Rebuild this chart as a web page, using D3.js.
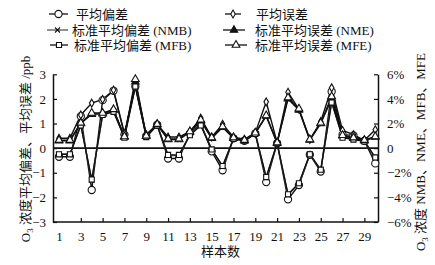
<!DOCTYPE html>
<html><head><meta charset="utf-8">
<script src="https://cdn.jsdelivr.net/npm/d3@7"></script>
<style>
html,body{margin:0;padding:0;background:#fff;}
text{font-family:"Liberation Serif","Noto Sans CJK SC",serif;fill:#111;}
</style></head>
<body><svg id="c" width="435" height="265"></svg>
<script>
const samples = d3.range(1, 31);
const xTicks = [1,3,5,7,9,11,13,15,17,19,21,23,25,27,29];
const leftTicks = [-3,-2,-1,0,1,2,3];
const rightTicks = [-6,-4,-2,0,2,4,6];
// left axis (ppb)
const MB = [-0.35,-0.35,1.3,-1.7,1.95,2.33,0.55,2.5,0.5,0.95,-0.42,-0.42,0.6,1.0,-0.13,-0.9,0.4,0.3,0.6,-1.38,0.2,-2.08,-1.5,-0.27,-0.95,2.3,0.55,0.52,0.3,-0.62];
const ME = [0.4,0.4,1.35,1.83,1.98,2.36,0.6,2.55,0.55,0.97,0.45,0.45,0.68,1.22,0.45,0.97,0.45,0.36,0.63,1.88,0.22,2.27,1.58,0.35,1.08,2.45,0.72,0.55,0.32,0.75];
// right axis (%)
const NMB = [-0.5,-0.5,1.9,-2.6,2.7,3.0,0.9,5.2,0.9,1.9,-0.6,-0.6,1.1,1.9,-0.1,-1.5,0.8,0.6,1.2,-2.4,0.4,-3.8,-2.9,-0.5,-1.8,3.8,0.9,0.7,0.6,-0.8];
const NME = [0.6,0.6,2.0,2.75,2.8,3.1,0.9,5.4,1.0,1.9,0.7,0.7,1.3,2.2,0.8,1.7,0.8,0.6,1.2,2.6,0.4,4.0,3.1,0.65,2.0,4.0,1.0,0.8,0.6,0.9];
const MFB = [-0.5,-0.5,1.85,-2.55,2.7,2.95,0.85,5.0,0.9,1.85,-0.55,-0.55,1.05,1.85,-0.1,-1.45,0.75,0.6,1.15,-2.35,0.4,-3.75,-2.85,-0.5,-1.75,3.7,0.85,0.7,0.55,-0.75];
const MFE = [0.65,0.65,2.05,2.85,2.85,3.15,0.95,5.6,1.0,1.95,0.75,0.75,1.35,2.3,0.85,1.75,0.85,0.65,1.25,2.65,0.45,4.1,3.2,0.7,2.05,4.2,1.05,0.85,0.65,0.95];
const labels = ["平均偏差","平均误差","标准平均偏差 (NMB)","标准平均误差 (NME)","标准平均偏差 (MFB)","标准平均误差 (MFE)"];

const svg = d3.select("#c");
const L = 53, R = 378, T = 74.3, B = 222;
const x = d3.scaleLinear().domain([0.45, 30.25]).range([L, R]);
const yL = d3.scaleLinear().domain([-3, 3]).range([B, T]);
const yR = d3.scaleLinear().domain([-6, 6]).range([B, T]);

// axes
const axL = svg.append("g").attr("transform",`translate(${L},0)`)
  .call(d3.axisLeft(yL).tickValues(leftTicks).tickSizeInner(-4).tickSizeOuter(0).tickPadding(7).tickFormat(d=>d<0?"−"+(-d):d));
const axR = svg.append("g").attr("transform",`translate(${R},0)`)
  .call(d3.axisRight(yR).tickValues(rightTicks).tickSizeInner(-4).tickSizeOuter(0).tickPadding(9).tickFormat(d=>d===0?"0":(d<0?"−"+(-d):d)+"%"));
const axB = svg.append("g").attr("transform",`translate(0,${B})`)
  .call(d3.axisBottom(x).tickValues(xTicks).tickSizeInner(-4).tickSizeOuter(0).tickPadding(10));
axB.selectAll(".tick").filter(d=>d===1).select("line").remove();
[axL,axR,axB].forEach(a=>{
  a.selectAll("path.domain").attr("stroke","#111").attr("stroke-width",1.5);
  a.selectAll(".tick line").attr("stroke","#111").attr("stroke-width",1.2);
  a.selectAll("text").attr("font-size",13).attr("font-family","Liberation Serif").attr("fill","#111");
});
axB.select("path.domain").attr("d",`M${L},0H${R}`);
// zero line
svg.append("line").attr("x1",L).attr("x2",R).attr("y1",yL(0)).attr("y2",yL(0)).attr("stroke","#111").attr("stroke-width",1.6);

// marker drawers
function mk(g, type, cx, cy){
  if(type==="circle") g.append("circle").attr("cx",cx).attr("cy",cy).attr("r",3.6).attr("fill","#fff").attr("stroke","#111").attr("stroke-width",1.1);
  else if(type==="diamond") g.append("path").attr("d",d3.symbol(d3.symbolDiamond,18)()).attr("transform",`translate(${cx},${cy})`).attr("fill","#fff").attr("stroke","#111").attr("stroke-width",1.1);
  else if(type==="cross") g.append("path").attr("d",d3.symbol(d3.symbolX,18)()).attr("transform",`translate(${cx},${cy})`).attr("fill","none").attr("stroke","#111").attr("stroke-width",1.1);
  else if(type==="tri") g.append("path").attr("d",d3.symbol(d3.symbolTriangle,24)()).attr("transform",`translate(${cx},${cy})`).attr("fill","#111").attr("stroke","#111").attr("stroke-width",1.1);
  else if(type==="square") g.append("path").attr("d",d3.symbol(d3.symbolSquare,26)()).attr("transform",`translate(${cx},${cy})`).attr("fill","#fff").attr("stroke","#111").attr("stroke-width",1.1);
  else if(type==="otri") g.append("path").attr("d",d3.symbol(d3.symbolTriangle,26)()).attr("transform",`translate(${cx},${cy})`).attr("fill","#fff").attr("stroke","#111").attr("stroke-width",1.1);
}

const series = [
  {v:MB, y:yL, m:"circle"},
  {v:ME, y:yL, m:"diamond"},
  {v:NMB, y:yR, m:"cross", c:"#555"},
  {v:NME, y:yR, m:"tri"},
  {v:MFB, y:yR, m:"square"},
  {v:MFE, y:yR, m:"otri"}
];
const gl = svg.append("g");
series.forEach(s=>{
  const line = d3.line().x((d,i)=>x(samples[i])).y(d=>s.y(d));
  gl.append("path").attr("d",line(s.v)).attr("fill","none").attr("stroke",s.c||"#111").attr("stroke-width",1.4);
});
series.forEach(s=>{
  const g = gl.append("g");
  s.v.forEach((d,i)=>mk(g,s.m,x(samples[i]),s.y(d)));
});

// legend
const legPos = [[49,68,76,14],[225,241,256,14],[47,68,72,30],[223,245,255,30],[50,68,74,45],[225,247,255,45]];
series.forEach((s,i)=>{
  const p = legPos[i];
  const g = svg.append("g");
  g.append("line").attr("x1",p[0]).attr("x2",p[1]).attr("y1",p[3]).attr("y2",p[3]).attr("stroke",s.c||"#111").attr("stroke-width",1.3);
  mk(g,s.m,(p[0]+p[1])/2,p[3]);
  g.append("text").attr("x",p[2]).attr("y",p[3]+5).attr("font-size",13).text(labels[i]);
});

// axis titles
svg.append("text").attr("x",220.5).attr("y",256).attr("text-anchor","middle").attr("font-size",13).text("样本数");
const lt = svg.append("text").attr("transform","translate(30,149) rotate(-90)").attr("text-anchor","middle").attr("font-size",13);
lt.append("tspan").text("O");
lt.append("tspan").attr("font-size",9).attr("dy",3).text("3");
lt.append("tspan").attr("dy",-3).text(" 浓度平均偏差、平均误差 /ppb");
const rt = svg.append("text").attr("transform","translate(425,152) rotate(-90)").attr("text-anchor","middle").attr("font-size",13);
rt.append("tspan").text("O");
rt.append("tspan").attr("font-size",9).attr("dy",3).text("3");
rt.append("tspan").attr("dy",-3).text(" 浓度 NMB、NME、MFB、MFE");
</script></body></html>
